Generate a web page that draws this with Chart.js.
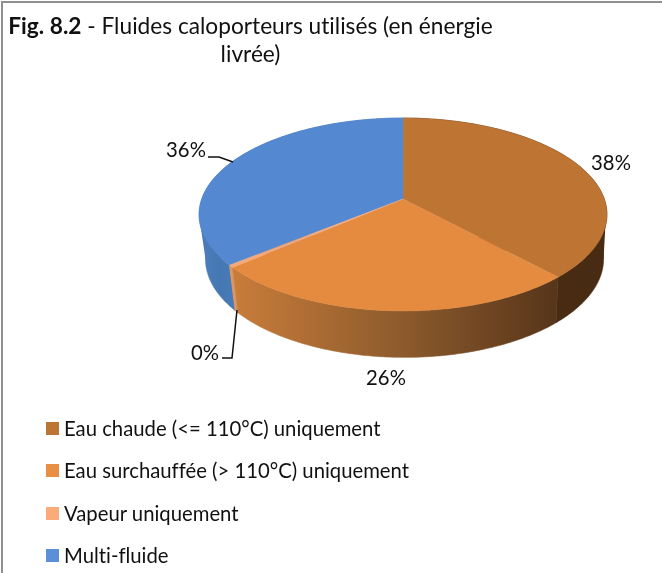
<!DOCTYPE html>
<html lang="fr">
<head>
<meta charset="utf-8">
<script src="https://cdn.jsdelivr.net/npm/chart.js@4"></script>
<style>
html,body{margin:0;padding:0;background:#fff;overflow:hidden}
#wrap{position:relative;width:662px;height:573px;font-family:Lato,sans-serif;color:#111;font-variant-ligatures:none}
#c{position:absolute;left:0;top:0;font-variant-ligatures:none}
#title{position:absolute;left:8px;top:12px;width:485px;text-align:center;font-size:22.7px;line-height:28px;white-space:nowrap}
#legend{position:absolute;left:46px;top:408px}
.li{position:absolute;left:0;height:42px;white-space:nowrap;font-size:20.3px;line-height:42px}
.sw{position:absolute;left:0;top:14px;width:13px;height:13px}
.tx{position:absolute;left:18px;top:-1px}
</style>
</head>
<body>
<div id="wrap">
<canvas id="c" width="662" height="573"></canvas>
<div id="title"><b>Fig. 8.2</b> - Fluides caloporteurs utilisés (en énergie<br>livrée)</div>
<div id="legend"></div>
</div>
<script>
const categories = ['Eau chaude (<= 110°C) uniquement','Eau surchauffée (> 110°C) uniquement','Vapeur uniquement','Multi-fluide'];
const values = [38.1, 25.6, 0.4, 35.9];
const shownLabels = ['38%','26%','0%','36%'];
const faceColors = ['#BE7534','#E58B40','#F4A878','#5489D2'];
const legendColors = ['#BD7536','#E98E45','#FAAB7A','#5B8FD6'];

// Projection of the tilted disc (layout, not data)
const P = 0.1606;
const top_ = {cx:403, cy:199, a:94, b:201.3};
const low_ = {cx:404.5, cy:243, a:96, b:196.5};
function projUV(pl,u,v){
  const w = 1 + P*v;
  return [pl.cx + pl.b*u/w, pl.cy - pl.a*v/w];
}
function proj(pl, ang){
  const t = ang + Math.PI/2;
  return projUV(pl, Math.sin(t), Math.cos(t));
}
function arcPath(ctx, pl, a0, a1, moveFirst){
  const n = Math.max(2, Math.ceil(Math.abs(a1-a0)/0.01));
  for(let i=0;i<=n;i++){
    const p = proj(pl, a0+(a1-a0)*i/n);
    if(i===0 && moveFirst) ctx.moveTo(p[0],p[1]); else ctx.lineTo(p[0],p[1]);
  }
}
function wallFill(ctx, i){
  const g = ctx.createLinearGradient(199,0,607,0);
  const stops = [
    [[0,'#4E3014'],[1,'#472B12']],
    [[0,'#C87C3A'],[0.09,'#C87C3A'],[0.5,'#8C5A2C'],[0.87,'#58361A'],[1,'#58361A']],
    [[0,'#DC9663'],[1,'#DC9663']],
    [[0,'#4F80BE'],[0.05,'#4577B2'],[0.1,'#4A7BB8'],[1,'#4A7BB8']]
  ][i];
  stops.forEach(s=>g.addColorStop(s[0],s[1]));
  return g;
}
function connector(ctx, side, fill){
  const a = projUV(top_, side*0.96, -0.28), b = projUV(low_, side*0.987, -0.16);
  ctx.beginPath();
  ctx.moveTo(a[0],a[1]); ctx.lineTo(b[0],b[1]); ctx.lineTo(low_.cx,low_.cy); ctx.closePath();
  ctx.fillStyle = fill; ctx.fill();
}
const pie3d = {
  id:'pie3d',
  beforeDatasetsDraw(chart){
    const ctx = chart.ctx, arcs = chart.getDatasetMeta(0).data;
    connector(ctx, -1, '#4A7BB8');
    connector(ctx, 1, '#472B12');
    // side walls, back to front
    [3,0,2,1].forEach(i=>{
      const e = arcs[i], f = wallFill(ctx,i);
      ctx.beginPath();
      arcPath(ctx, top_, e.startAngle, e.endAngle, true);
      arcPath(ctx, low_, e.endAngle, e.startAngle, false);
      ctx.closePath();
      ctx.fillStyle = f; ctx.strokeStyle = f; ctx.lineWidth = 0.6;
      ctx.fill(); ctx.stroke();
    });
    // top faces
    [0,1,3,2].forEach(i=>{
      const e = arcs[i];
      ctx.beginPath();
      ctx.moveTo(top_.cx, top_.cy);
      arcPath(ctx, top_, e.startAngle, e.endAngle, false);
      ctx.closePath();
      ctx.fillStyle = faceColors[i];
      ctx.strokeStyle = faceColors[i];
      ctx.lineWidth = 0.4;
      ctx.fill(); ctx.stroke();
    });
    return false;
  },
  afterDraw(chart){
    const ctx = chart.ctx;
    ctx.save();
    // frame
    ctx.strokeStyle = '#8F8F8F'; ctx.lineWidth = 2;
    ctx.beginPath(); ctx.moveTo(2,573); ctx.lineTo(2,2); ctx.lineTo(662,2); ctx.stroke();
    // leader lines
    ctx.strokeStyle = '#111'; ctx.lineWidth = 1.5;
    ctx.beginPath(); ctx.moveTo(208,157); ctx.lineTo(219,157); ctx.lineTo(233,162); ctx.stroke();
    ctx.beginPath(); ctx.moveTo(222,358); ctx.lineTo(232,358); ctx.lineTo(237,310); ctx.stroke();
    // data labels
    ctx.fillStyle = '#111';
    ctx.font = '20.3px Lato, sans-serif';
    ctx.textAlign = 'center'; ctx.textBaseline = 'middle';
    const pos = [[611,163],[386,378],[205,353],[186,150]];
    shownLabels.forEach((s,i)=>ctx.fillText(s,pos[i][0],pos[i][1]));
    ctx.restore();
  }
};
new Chart(document.getElementById('c'),{
  type:'pie',
  data:{labels:categories,datasets:[{data:values,backgroundColor:faceColors,borderWidth:0}]},
  options:{responsive:false,animation:false,
    plugins:{legend:{display:false},tooltip:{enabled:false},title:{display:false}}},
  plugins:[pie3d]
});
const lg = document.getElementById('legend');
const tops = [0,42,85,127];
categories.forEach((c,i)=>{
  const d = document.createElement('div'); d.className='li'; d.style.top=tops[i]+'px';
  const s = document.createElement('span'); s.className='sw'; s.style.background=legendColors[i];
  const t = document.createElement('span'); t.className='tx'; t.textContent=c;
  d.append(s,t); lg.append(d);
});
</script>
</body>
</html>
